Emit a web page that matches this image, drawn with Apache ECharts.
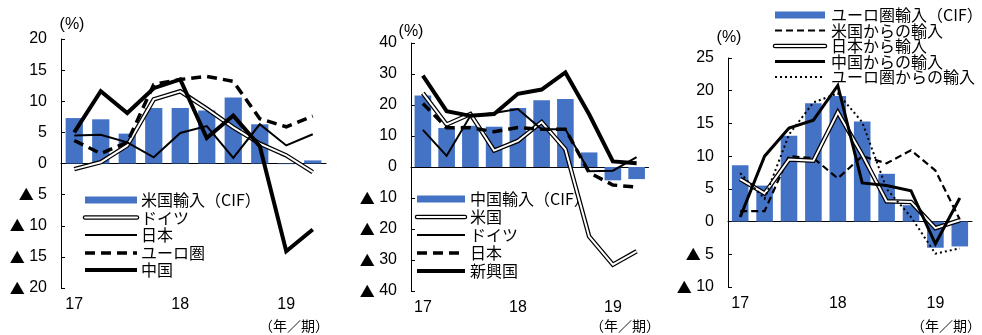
<!DOCTYPE html>
<html>
<head>
<meta charset="utf-8">
<script src="https://cdn.jsdelivr.net/npm/echarts@6/dist/echarts.min.js"></script>
<style>
  html, body { margin: 0; padding: 0; background: #fff; }
  #chart-container { width: 982px; height: 335px; }
</style>
</head>
<body>
<div id="chart-container"></div>
<script>
let dom = document.getElementById('chart-container');
let myChart = echarts.init(dom, null, { renderer: 'canvas' });

// quarters 17Q1 .. 19Q2
const quarters = ['17Q1', '17Q2', '17Q3', '17Q4', '18Q1', '18Q2', '18Q3', '18Q4', '19Q1', '19Q2'];

// panel 1: 米国輸入
const usImport = [7.3, 7.1, 4.8, 8.9, 8.9, 8.5, 10.6, 6.3, -0.1, 0.5];
const usFromGermany = [-0.9, 0.2, 2.9, 10.3, 11.6, 8.8, 5.8, 3.2, 1.3, -1.4];
const usFromJapan = [4.5, 4.6, 3.4, 1.0, 4.9, 6.0, 0.9, 6.3, 2.9, 4.7];
const usFromEuro = [3.7, 1.6, 3.4, 12.7, 13.5, 14.0, 13.2, 7.2, 5.9, 7.6];
const usFromChina = [5.0, 11.6, 8.1, 12.1, 13.5, 4.1, 7.7, 2.8, -14.1, -10.6];

// panel 2: 中国輸入
const cnImport = [23.1, 12.6, 13.3, 13.0, 19.0, 21.5, 21.9, 4.7, -4.3, -3.9];
const cnFromUs = [23.8, 13.7, 17.1, 5.3, 8.4, 14.5, 5.7, -22.4, -31.5, -27.2];
const cnFromGermany = [12.0, 3.6, 16.5, 17.4, 18.7, 12.2, 12.2, -1.4, -1.2, 3.2];
const cnFromJapan = [20.5, 12.7, 12.7, 11.4, 12.7, 12.2, 12.2, -1.8, -5.8, -6.5];
const cnFromEmerging = [29.5, 18.0, 16.5, 17.1, 23.6, 25.0, 30.5, 17.0, 1.8, 1.2];

// panel 3: ユーロ圏輸入
const euImport = [8.6, 5.5, 13.1, 18.1, 19.2, 15.3, 7.3, 2.5, -4.0, -3.8];
const euFromUs = [1.6, 1.6, 10.0, 9.7, 6.6, 10.0, 8.9, 10.9, 7.8, 0.3];
const euFromJapan = [6.5, 4.3, 9.5, 9.3, 16.7, 10.2, 3.1, 3.0, -1.0, 0.2];
const euFromChina = [0.7, 10.0, 14.3, 15.5, 20.8, 5.9, 5.5, 4.7, -3.4, 3.6];
const euFromEuro = [7.4, 3.5, 13.3, 18.2, 19.6, 15.2, 5.0, 0.7, -4.9, -4.1];

const BLUE = '#4472C4';
const FONT = "'Liberation Sans', Arial, 'Noto Sans CJK JP', sans-serif";
const JP_FONT = "'Noto Sans CJK JP', sans-serif";

// line looks
const looks = {
    thin: { color: '#000', width: 2 },
    thick: { color: '#000', width: 4 },
    dashThick: { color: '#000', width: 3.5, type: [10, 6] },
    dashMid: { color: '#000', width: 2.2, type: [7, 4] },
    dot: { color: '#000', width: 2, type: [2, 3] }
};

const grids = [
    { left: 61, top: 39, width: 265, height: 249 },
    { left: 411, top: 43, width: 237.5, height: 248 },
    { left: 728, top: 58, width: 244, height: 229 }
];
const yRanges = [
    { min: -20, max: 20, interval: 5 },
    { min: -40, max: 40, interval: 10 },
    { min: -10, max: 25, interval: 5 }
];

let xAxes = grids.map(function(g, i) {
    return {
        type: 'category',
        gridIndex: i,
        data: quarters,
        boundaryGap: true,
        axisLine: { lineStyle: { color: '#000', width: 1 } },
        axisTick: {
            length: 4,
            lineStyle: { color: '#000' },
            interval: function(idx) { return idx % 4 === 0; }
        },
        axisLabel: {
            interval: 0,
            margin: 9,
            color: '#000',
            fontSize: 16,
            fontFamily: FONT,
            formatter: function(v) { return v.slice(2) === 'Q1' ? v.slice(0, 2) : ''; }
        }
    };
});

let yAxes = grids.map(function(g, i) {
    return {
        type: 'value',
        gridIndex: i,
        min: yRanges[i].min,
        max: yRanges[i].max,
        interval: yRanges[i].interval,
        splitLine: { show: false },
        axisLine: { show: true, lineStyle: { color: '#000', width: 1 } },
        axisTick: { show: true, inside: true, length: 4, lineStyle: { color: '#000' } },
        axisLabel: {
            margin: 14,
            color: '#000',
            fontSize: 16,
            fontFamily: FONT,
            formatter: function(v) { return v < 0 ? '{tri|▲} ' + (-v) : String(v); },
            rich: {
                tri: { fontFamily: JP_FONT, fontSize: 15, color: '#000' }
            }
        }
    };
});

let series = [];
function addBar(i, data, width) {
    series.push({
        type: 'bar', xAxisIndex: i, yAxisIndex: i, data: data,
        barWidth: width, itemStyle: { color: BLUE }, z: 1
    });
}
function addLine(i, data, look) {
    series.push({
        type: 'line', xAxisIndex: i, yAxisIndex: i, data: data,
        symbol: 'none', z: 3,
        lineStyle: { color: look.color, width: look.width, type: look.type || 'solid', join: 'miter' }
    });
}
function addDouble(i, data) {
    addLine(i, data, { color: '#000', width: 4.5 });
    addLine(i, data, { color: '#fff', width: 2 });
}

addBar(0, usImport, '65%');
addDouble(0, usFromGermany);
addLine(0, usFromJapan, looks.thin);
addLine(0, usFromEuro, looks.dashThick);
addLine(0, usFromChina, looks.thick);

addBar(1, cnImport, '70%');
addDouble(1, cnFromUs);
addLine(1, cnFromGermany, looks.thin);
addLine(1, cnFromJapan, looks.dashThick);
addLine(1, cnFromEmerging, looks.thick);

addBar(2, euImport, '68%');
addLine(2, euFromUs, looks.dashMid);
addDouble(2, euFromJapan);
addLine(2, euFromChina, { color: '#000', width: 3 });
addLine(2, euFromEuro, looks.dot);

// legend blocks drawn as graphics
let graphics = [];
function legendBlock(x1, x2, textX, ys, items) {
    items.forEach(function(it, k) {
        let y = ys[k];
        if (it.kind === 'bar') {
            graphics.push({ type: 'rect', shape: { x: x1, y: y - 3.5, width: x2 - x1, height: 7 }, style: { fill: BLUE } });
        } else if (it.kind === 'double') {
            graphics.push({ type: 'line', shape: { x1: x1, y1: y, x2: x2, y2: y }, style: { stroke: '#000', lineWidth: 4.5, lineCap: 'round' } });
            graphics.push({ type: 'line', shape: { x1: x1, y1: y, x2: x2, y2: y }, style: { stroke: '#fff', lineWidth: 2, lineCap: 'round' } });
        } else {
            let lk = it.look;
            graphics.push({ type: 'line', shape: { x1: x1, y1: y, x2: x2, y2: y }, style: { stroke: '#000', lineWidth: lk.width, lineDash: lk.type || null } });
        }
        graphics.push({
            type: 'text', x: textX, y: y,
            style: { text: it.name, fill: '#000', font: '16px ' + JP_FONT, verticalAlign: 'middle', align: 'left' }
        });
    });
}

legendBlock(85, 137, 141, [200, 217.5, 235, 253, 270], [
    { kind: 'bar', name: '米国輸入（CIF）' },
    { kind: 'double', name: 'ドイツ' },
    { kind: 'line', look: looks.thin, name: '日本' },
    { kind: 'line', look: looks.dashThick, name: 'ユーロ圏' },
    { kind: 'line', look: looks.thick, name: '中国' }
]);
legendBlock(417, 465, 470, [199, 217, 235, 253, 271], [
    { kind: 'bar', name: '中国輸入（CIF）' },
    { kind: 'double', name: '米国' },
    { kind: 'line', look: looks.thin, name: 'ドイツ' },
    { kind: 'line', look: looks.dashThick, name: '日本' },
    { kind: 'line', look: looks.thick, name: '新興国' }
]);
legendBlock(775, 825, 831, [15, 30.5, 46, 61.5, 77], [
    { kind: 'bar', name: 'ユーロ圏輸入（CIF）' },
    { kind: 'line', look: looks.dashMid, name: '米国からの輸入' },
    { kind: 'double', name: '日本から輸入' },
    { kind: 'line', look: { width: 3 }, name: '中国からの輸入' },
    { kind: 'line', look: looks.dot, name: 'ユーロ圏からの輸入' }
]);

// unit labels
[[72, 25], [411, 32], [729, 38]].forEach(function(p) {
    graphics.push({ type: 'text', x: p[0], y: p[1], style: { text: '(%)', fill: '#000', font: '16px ' + FONT, align: 'center', verticalAlign: 'middle' } });
});
[329, 660, 981].forEach(function(x) {
    graphics.push({ type: 'text', x: x, y: 326, style: { text: '（年／期）', fill: '#000', font: '14px ' + JP_FONT, align: 'right', verticalAlign: 'middle' } });
});

let option = {
    animation: false,
    backgroundColor: '#fff',
    textStyle: { fontFamily: FONT },
    grid: grids,
    xAxis: xAxes,
    yAxis: yAxes,
    series: series,
    graphic: graphics
};

myChart.setOption(option);
window.addEventListener('resize', myChart.resize);
</script>
</body>
</html>
